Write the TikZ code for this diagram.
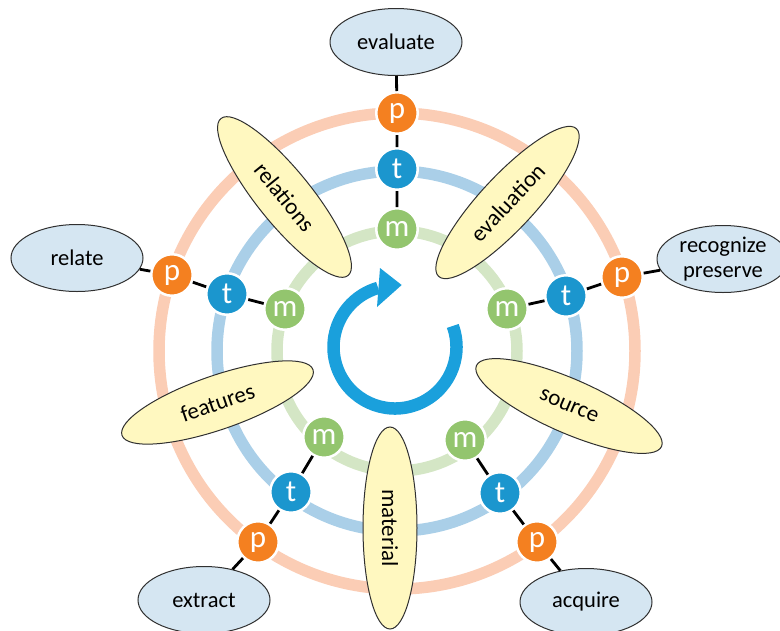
\documentclass[tikz,border=0pt]{standalone}
\usepackage{fontspec}
\setmainfont{Carlito}
\usetikzlibrary{shapes.geometric,calc}

\definecolor{ringP}{HTML}{FBCDB5}
\definecolor{ringT}{HTML}{AACFE8}
\definecolor{ringM}{HTML}{D4E6C5}
\definecolor{pFill}{HTML}{F48020}
\definecolor{tFill}{HTML}{1B96CE}
\definecolor{mFill}{HTML}{93C56E}
\definecolor{goalFill}{HTML}{D5E6F2}
\definecolor{stageFill}{HTML}{FFF8C0}
\definecolor{cycleBlue}{HTML}{1AA0DC}
\definecolor{edge}{HTML}{303030}

\tikzset{
  ring/.style={line width=11.5pt},
  dot/.style={circle, draw=white, line width=2.5pt, minimum size=41.5pt, inner sep=0pt,
              text=white, font=\fontsize{31}{33}\selectfont},
  pdot/.style={dot, fill=pFill},
  tdot/.style={dot, fill=tFill},
  mdot/.style={dot, fill=mFill},
  goal/.style={ellipse, draw=edge, line width=1pt, fill=goalFill, minimum width=132pt,
               minimum height=67pt, inner sep=0pt, align=center,
               font=\fontsize{22.5}{25}\selectfont},
  stage/.style={ellipse, draw=edge, line width=1pt, fill=stageFill, minimum width=202pt,
                minimum height=54pt, inner sep=0pt, font=\fontsize{23}{25}\selectfont},
  link/.style={line width=2.8pt, black},
}

\begin{document}
\begin{tikzpicture}[x=1pt,y=1pt]
\useasboundingbox (0,0) rectangle (780,-630);
\coordinate (C) at (397,-351);

% concentric rings
\draw[ring, ringP] (C) circle[radius=238];
\draw[ring, ringT] (C) circle[radius=180];
\draw[ring, ringM] (C) circle[radius=120];

% stage ellipses lying across the rings
\node[stage, rotate=47]    (sEval) at (507.5,-202.5) {evaluation};
\node[stage, rotate=-51]   (sRel)  at (284.5,-197)   {relations};
\node[stage, rotate=19]    (sFeat) at (217.5,-402.5) {features};
\node[stage, rotate=-90]   (sMat)  at (390,-528)     {material};
\node[stage, rotate=-23.6] (sSrc)  at (569,-406)     {source};

% central cycle arrow
\coordinate (A) at (395,-347);
\draw[cycleBlue, line width=12.5pt] ($(A)+(20:61.5)$) arc[start angle=20, end angle=-254, radius=61.5];
\fill[cycleBlue] ($(A)+(-15,79)$) -- ($(A)+(6.7,62)$) -- ($(A)+(-18,40)$) -- cycle;

% goal ellipses
\node[goal] (gTop)   at (396,-42)  {evaluate};
\node[goal] (gLeft)  at (77,-258)  {relate};
\node[goal] (gRight) at (723,-259) {recognize\\preserve};
\node[goal] (gBL)    at (204,-600) {extract};
\node[goal] (gBR)    at (586,-602) {acquire};

% p / t / m markers on each spoke
\node[pdot] (p1) at (397,-113) {p};
\node[tdot] (t1) at (397,-169) {t};
\node[mdot] (m1) at (397,-229) {m};

\node[pdot] (p2) at (172,-275) {p};
\node[tdot] (t2) at (227,-294) {t};
\node[mdot] (m2) at (285,-309) {m};

\node[pdot] (p3) at (622,-277) {p};
\node[tdot] (t3) at (566,-296) {t};
\node[mdot] (m3) at (507,-309) {m};

\node[pdot] (p4) at (258,-542) {p};
\node[tdot] (t4) at (291,-492) {t};
\node[mdot] (m4) at (324,-437) {m};

\node[pdot] (p5) at (537,-542) {p};
\node[tdot] (t5) at (500,-493) {t};
\node[mdot] (m5) at (465,-440) {m};

% spokes
\draw[link] (gTop) -- (p1) -- (t1) -- (m1);
\draw[link] (gLeft) -- (p2) -- (t2) -- (m2);
\draw[link] (gRight) -- (p3) -- (t3) -- (m3);
\draw[link] (gBL) -- (p4) -- (t4) -- (m4);
\draw[link] (gBR) -- (p5) -- (t5) -- (m5);
\end{tikzpicture}
\end{document}
